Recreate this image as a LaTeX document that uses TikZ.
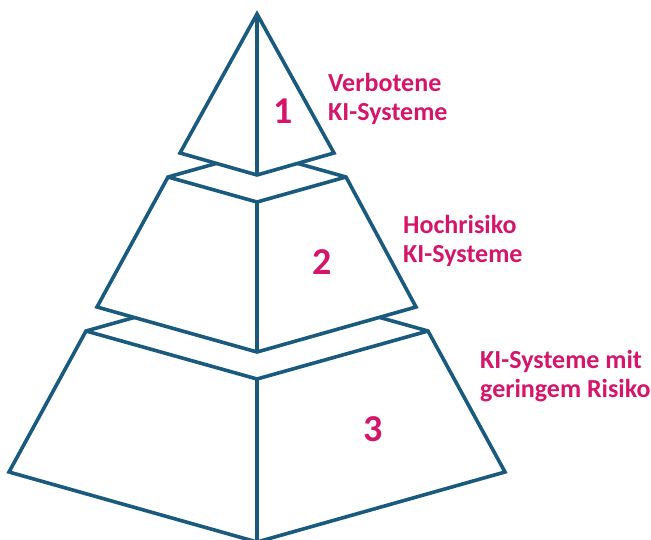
\documentclass[tikz,border=0pt]{standalone}
\usepackage{fontspec}
\setmainfont{Carlito}
\definecolor{edge}{HTML}{1A5A7E}
\definecolor{accent}{HTML}{D4156B}
\begin{document}
\begin{tikzpicture}[x=1pt,y=-1pt,
  tier/.style={draw=edge, line width=3.6pt, line join=miter, fill=white},
  ridge/.style={draw=edge, line width=3.6pt},
  num/.style={text=accent, font=\bfseries\fontsize{38}{42}\selectfont, inner sep=0pt},
  lbl/.style={text=accent, font=\bfseries\fontsize{26}{28.3}\selectfont, anchor=base west, inner sep=0pt, align=left}]
\useasboundingbox (0,0) rectangle (651,539);

% bottom tier: low-risk systems
\coordinate (c3l) at (86,331);  \coordinate (c3r) at (428,331);
\coordinate (c3f) at (257,379); \coordinate (c3b) at (257,283);
\coordinate (c3bl) at (9,472);  \coordinate (c3br) at (505,472);
\coordinate (c3bf) at (257,542);
\path[tier] (c3l) -- (c3b) -- (c3r) -- (c3br) -- (c3bf) -- (c3bl) -- cycle;
\draw[ridge] (c3l) -- (c3f) -- (c3r);
\draw[ridge] (c3f) -- (c3bf);

% middle tier: high-risk systems
\coordinate (c2l) at (168,177);  \coordinate (c2r) at (346,177);
\coordinate (c2f) at (257,202);  \coordinate (c2b) at (257,152);
\coordinate (c2bl) at (97,307);  \coordinate (c2br) at (416,307);
\coordinate (c2bf) at (257,352);
\path[tier] (c2l) -- (c2b) -- (c2r) -- (c2br) -- (c2bf) -- (c2bl) -- cycle;
\draw[ridge] (c2l) -- (c2f) -- (c2r);
\draw[ridge] (c2f) -- (c2bf);

% top tier: prohibited systems
\coordinate (c1a) at (257,14);
\coordinate (c1l) at (180,153); \coordinate (c1r) at (334,153);
\coordinate (c1f) at (257,175);
\path[tier] (c1a) -- (c1r) -- (c1f) -- (c1l) -- cycle;
\draw[ridge] (c1a) -- (c1f);

% tier numbers
\node[num] (n1) at (283,111) {1};
\node[num] (n2) at (322,262) {2};
\node[num] (n3) at (373,429) {3};

% tier labels (anchored at the baseline of the second line)
\node[lbl] (t1) at (328,120) {Verbotene\\KI-Systeme};
\node[lbl] (t2) at (403,262) {Hochrisiko\\KI-Systeme};
\node[lbl] (t3) at (480,397) {KI-Systeme mit\\geringem Risiko};
\end{tikzpicture}
\end{document}
